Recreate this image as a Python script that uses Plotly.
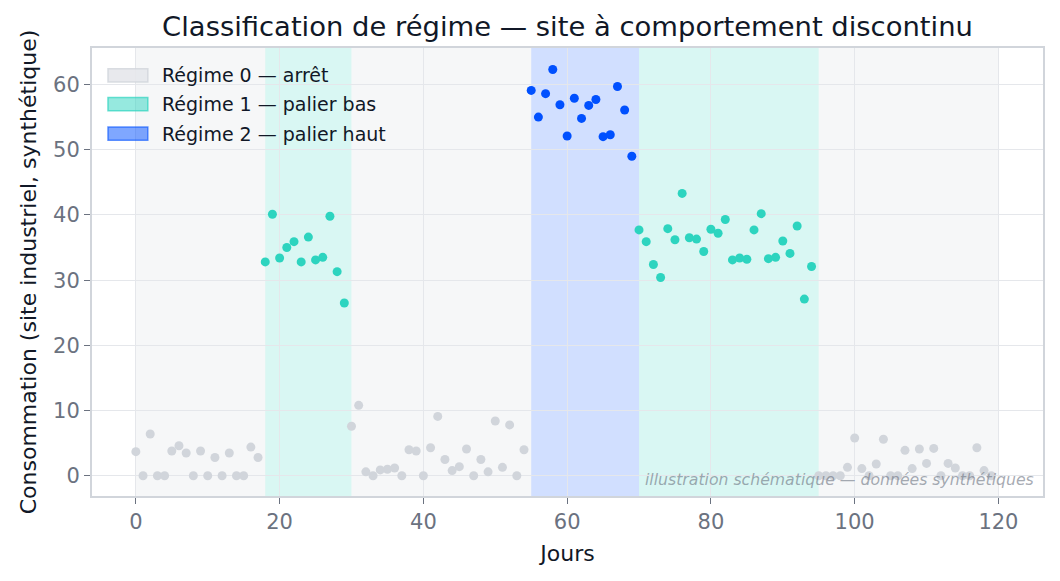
import plotly.graph_objects as go

# consommation journaliere
jours = list(range(120))
conso = [
    3.7, 0, 6.4, 0, 0, 3.8, 4.6, 3.5, 0, 3.8, 0, 2.8, 0, 3.5, 0, 0, 4.4, 2.8,
    32.8, 40.1, 33.4, 35.0, 35.9, 32.8, 36.6, 33.1, 33.5, 39.8, 31.3, 26.5,
    7.6, 10.8, 0.6, 0, 0.9, 1.0, 1.2, 0, 4.0, 3.8, 0, 4.3, 9.1, 2.5, 0.8, 1.4,
    4.1, 0, 2.5, 0.6, 8.4, 1.3, 7.8, 0, 4.0,
    59.1, 55.0, 58.6, 62.3, 56.9, 52.1, 57.9, 54.8, 56.8, 57.7, 52.0, 52.3,
    59.7, 56.1, 49.0,
    37.7, 35.9, 32.4, 30.4, 37.9, 36.2, 43.3, 36.5, 36.3, 34.4, 37.8, 37.2,
    39.3, 33.1, 33.4, 33.2, 37.7, 40.2, 33.3, 33.5, 36.0, 34.1, 38.3, 27.1, 32.1,
    0, 0, 0, 0, 1.3, 5.8, 1.1, 0, 1.8, 5.6, 0, 0, 3.9, 1.1, 4.1, 1.9, 4.2, 0,
    1.9, 1.2, 0, 0, 4.3, 0.8, 0,
]
# segments de regime : debut, fin, regime
seg_debut = [0, 18, 30, 55, 70, 95]
seg_fin = [18, 30, 55, 70, 95, 120]
seg_regime = [0, 1, 0, 2, 1, 0]

noms = ["Régime 0 — arrêt", "Régime 1 — palier bas", "Régime 2 — palier haut"]
col_pts = ["#d1d5db", "#2dd4bf", "#0050ff"]
col_band = ["rgba(229,231,235,0.35)", "rgba(45,212,191,0.18)", "rgba(0,80,255,0.18)"]
col_leg = ["rgba(229,231,235,0.9)", "rgba(45,212,191,0.5)", "rgba(0,80,255,0.5)"]
col_bord = ["rgba(209,213,219,0.8)", "rgba(45,212,191,0.7)", "rgba(0,80,255,0.6)"]

regime_jour = []
for d in jours:
    for a, b, r in zip(seg_debut, seg_fin, seg_regime):
        if a <= d < b:
            regime_jour.append(r)

fig = go.Figure()

for a, b, r in zip(seg_debut, seg_fin, seg_regime):
    fig.add_shape(type="rect", xref="x", yref="paper", x0=a, x1=b, y0=0, y1=1,
                  fillcolor=col_band[r], line_width=0, layer="below")

for r in range(3):
    xs = [d for d, g in zip(jours, regime_jour) if g == r]
    ys = [v for v, g in zip(conso, regime_jour) if g == r]
    fig.add_trace(go.Scatter(x=xs, y=ys, mode="markers", showlegend=False,
                             name=noms[r], marker=dict(color=col_pts[r], size=9)))

# legende dessinee a la main (pastilles larges comme dans l'original)
leg_y = [0.939, 0.8745, 0.809]
for r in range(3):
    fig.add_shape(type="rect", xref="paper", yref="paper",
                  x0=0.0168, x1=0.0587, y0=leg_y[r] - 0.0148, y1=leg_y[r] + 0.0148,
                  fillcolor=col_leg[r], line=dict(color=col_bord[r], width=1.5))
    fig.add_annotation(text=noms[r], xref="paper", yref="paper",
                       x=0.0715, y=leg_y[r], xanchor="left", yanchor="middle",
                       showarrow=False, font=dict(size=19, color="#111827"))

fig.add_annotation(text="illustration schématique — données synthétiques",
                   xref="paper", yref="paper", x=0.993, y=0.012,
                   xanchor="right", yanchor="bottom", showarrow=False,
                   font=dict(size=15.7, color="rgba(107,114,128,0.6)", style="italic"))

axe = dict(showline=True, linecolor="#d1d5db", linewidth=2, mirror=True,
           gridcolor="#e5e7eb", ticks="outside", tickcolor="#6b7280",
           ticklen=6, zeroline=False, tickfont=dict(size=21, color="#6b7280"))

# la page ajoute une marge de 8 px autour de la figure
fig.update_layout(
    width=1044, height=565,
    margin=dict(l=84, r=7, t=40, b=77),
    plot_bgcolor="white", paper_bgcolor="white",
    showlegend=False,
    font=dict(family="DejaVu Sans", color="#111827"),
    title=dict(text="Classification de régime — site à comportement discontinu",
               x=0.5, xref="paper", yref="container", y=0.968, yanchor="middle",
               font=dict(size=27.4, color="#111827")),
    xaxis=dict(axe, range=[-6.1, 126.2], dtick=20,
               title=dict(text="Jours", font=dict(size=22), standoff=12)),
    yaxis=dict(axe, range=[-3.1, 65.6], dtick=10,
               title=dict(text="Consommation (site industriel, synthétique)",
                          font=dict(size=22), standoff=10)),
)

fig.write_html("out.html")
